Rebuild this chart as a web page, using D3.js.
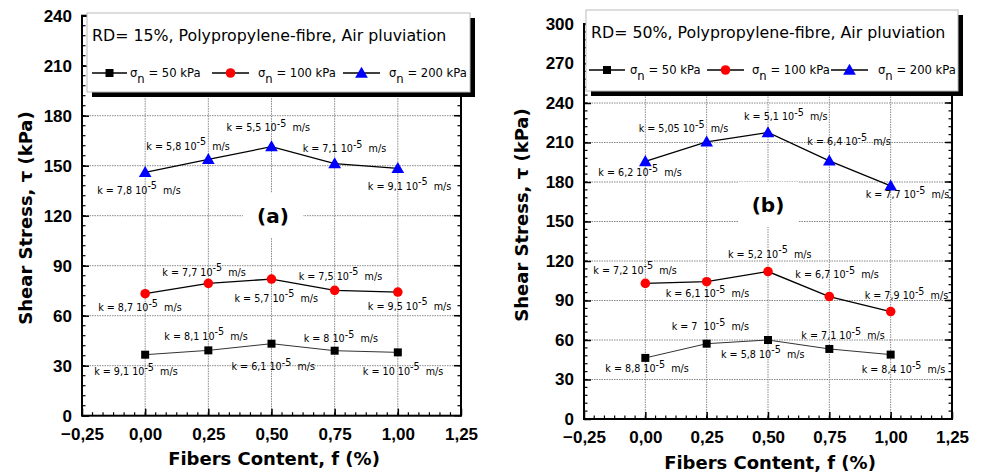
<!DOCTYPE html>
<html><head><meta charset="utf-8">
<script src="https://cdn.jsdelivr.net/npm/d3@7"></script>
<style>body{margin:0;background:#fff}svg text{white-space:pre}</style>
</head><body><svg id="c" width="981" height="475"></svg>
<script>
// ---------- data ----------
const fibers = [0, 0.25, 0.5, 0.75, 1.0];
const xTicks = [-0.25, 0, 0.25, 0.5, 0.75, 1.0, 1.25];
const yTicksA = [0, 30, 60, 90, 120, 150, 180, 210, 240];
const yTicksB = [0, 30, 60, 90, 120, 150, 180, 210, 240, 270, 300];
const seriesNames = ["50 kPa", "100 kPa", "200 kPa"];

const tauA50  = [36.6, 39.2, 43.2, 39.0, 38.0];
const tauA100 = [73.2, 79.4, 82.0, 75.2, 74.2];
const tauA200 = [146.0, 153.8, 161.4, 151.2, 148.4];
const tauB50  = [46.4, 57.2, 60.0, 53.2, 48.9];
const tauB100 = [103.0, 104.3, 112.0, 93.0, 81.6];
const tauB200 = [195.6, 210.5, 217.6, 196.0, 177.0];

const kA50  = ["9,1", "8,1", "6,1", "8", "10"];
const kA100 = ["8,7", "7,7", "5,7", "7,5", "9,5"];
const kA200 = ["7,8", "5,8", "5,5", "7,1", "9,1"];
const kB50  = ["8,8", "7 ", "5,8", "7,1", "8,4"];
const kB100 = ["7,2", "6,1", "5,2", "6,7", "7,9"];
const kB200 = ["6,2", "5,05", "5,1", "6,4", "7,7"];

const titleA = "RD= 15%, Polypropylene-fibre, Air pluviation";
const titleB = "RD= 50%, Polypropylene-fibre, Air pluviation";

// ---------- layout (label offsets relative to markers, px) ----------
const offA = [
  [[-51,17],[-44,-14],[-40,23],[-31,-12],[-35,19]],
  [[-47,14],[-46,-11],[-37,19],[-36,-14],[-30,14]],
  [[-48,18],[-62,-13],[-45,-19],[-32,-15],[-30,18]]
];
const offB = [
  [[-40,11],[-35,-17],[-47,14],[-28,-13],[-29,15]],
  [[-52,-13],[-41,12],[-40,-17.5],[-34,-21.6],[-26,-16]],
  [[-47,11.5],[-68,-13],[-24,-15.5],[-22,-19],[-25,9]]
];

const svg = d3.select("#c");
const fmt = d => d3.format(".2f")(d).replace(".", ",");
const colors = ["#000000", "#ff0000", "#0000ff"];
const symbols = [d3.symbolSquare, d3.symbolCircle, d3.symbolTriangle];
const symSizes = [64, 72, 70];
const lineColors = ["#333", "#000", "#000"];
const lineWidths = [1, 1.3, 1.3];
const TF = "'DejaVu Sans', sans-serif";
const NF = "'Liberation Sans', Arial, sans-serif";

function panel(cfg) {
  const x = d3.scaleLinear().domain([-0.25, 1.25]).range(cfg.xr);
  const y = d3.scaleLinear().domain([0, cfg.ymax]).range(cfg.yr);
  const g = svg.append("g");
  const [x0, x1] = cfg.xr, [yb, yt] = cfg.yr;

  // grid
  g.selectAll(".hg").data(cfg.yTicks.filter(v => v > 0 && v < cfg.ymax)).join("line")
    .attr("x1", x0).attr("x2", x1).attr("y1", d => y(d)).attr("y2", d => y(d))
    .attr("stroke", "#888").attr("stroke-width", 1).attr("stroke-dasharray", "1.5,1");
  g.selectAll(".vg").data(fibers).join("line")
    .attr("x1", d => x(d)).attr("x2", d => x(d)).attr("y1", yt).attr("y2", yb)
    .attr("stroke", "#888").attr("stroke-width", 1).attr("stroke-dasharray", "1.5,1");

  // panel label with white background
  g.append("rect").attr("x", cfg.lab[0] - 30).attr("y", cfg.lab[1] - 23)
    .attr("width", 60).attr("height", 45).attr("fill", "#fff");
  g.append("text").attr("x", cfg.lab[0]).attr("y", cfg.lab[1] + 7).attr("text-anchor", "middle")
    .attr("font-family", TF).attr("font-weight", "bold").attr("font-size", 20).text(cfg.labText);

  // axes with inner ticks
  const minorY = d3.range(0, cfg.ymax + 0.001, 6);
  const minorX = d3.range(-0.25, 1.2501, 0.25 / 6);
  const ax = d3.axisBottom(x).tickValues(xTicks).tickFormat(fmt).tickSizeInner(-7).tickSizeOuter(0).tickPadding(12);
  const ay = d3.axisLeft(y).tickValues(cfg.yTicks).tickFormat(d3.format("d")).tickSizeInner(-7).tickSizeOuter(0).tickPadding(10);
  const gx = g.append("g").attr("transform", `translate(0,${yb})`).call(ax);
  const gy = g.append("g").attr("transform", `translate(${x0},0)`).call(ay);
  [gx, gy].forEach(a => {
    a.select(".domain").remove();
    a.selectAll("line").attr("stroke", "#000").attr("stroke-width", 1.5);
    a.selectAll("text").attr("font-family", NF).attr("font-weight", "bold").attr("font-size", 17).attr("fill", "#000");
  });
  gx.selectAll("text").attr("dy", "0.71em");
  // minor ticks
  g.selectAll(".mxb").data(minorX).join("line").attr("x1", d => x(d)).attr("x2", d => x(d))
    .attr("y1", yb).attr("y2", yb - 3.5).attr("stroke", "#000").attr("stroke-width", 1.2);
  g.selectAll(".myl").data(minorY).join("line").attr("y1", d => y(d)).attr("y2", d => y(d))
    .attr("x1", x0).attr("x2", x0 + 3.5).attr("stroke", "#000").attr("stroke-width", 1.2);
  g.selectAll(".myr").data(minorY).join("line").attr("y1", d => y(d)).attr("y2", d => y(d))
    .attr("x1", x1).attr("x2", x1 - 3.5).attr("stroke", "#000").attr("stroke-width", 1.2);
  g.selectAll(".Myr").data(cfg.yTicks).join("line").attr("y1", d => y(d)).attr("y2", d => y(d))
    .attr("x1", x1).attr("x2", x1 - 7).attr("stroke", "#000").attr("stroke-width", 1.5);
  g.selectAll(".Mxt").data(xTicks).join("line").attr("x1", d => x(d)).attr("x2", d => x(d))
    .attr("y1", yt).attr("y2", yt + 7).attr("stroke", "#000").attr("stroke-width", 1.5);
  // frame
  g.append("rect").attr("x", x0).attr("y", yt).attr("width", x1 - x0).attr("height", yb - yt)
    .attr("fill", "none").attr("stroke", "#000").attr("stroke-width", 2);

  // series
  const line = d3.line().x((d, i) => x(fibers[i])).y(d => y(d));
  cfg.series.forEach((s, si) => {
    g.append("path").datum(s).attr("d", line).attr("fill", "none")
      .attr("stroke", lineColors[si]).attr("stroke-width", lineWidths[si]);
  });
  cfg.series.forEach((s, si) => {
    g.selectAll(null).data(s).join("path")
      .attr("transform", (d, i) => `translate(${x(fibers[i])},${y(d) + (si === 2 ? 1 : 0)})`)
      .attr("d", d3.symbol().type(symbols[si]).size(symSizes[si])).attr("fill", colors[si]);
    // k labels
    s.forEach((d, i) => {
      const o = cfg.off[si][i];
      const t = g.append("text").attr("x", x(fibers[i]) + o[0]).attr("y", y(d) + o[1] + 3.5)
        .attr("font-family", TF).attr("font-size", 9.6).attr("fill", "#000");
      t.append("tspan").text(`k = ${cfg.k[si][i]} 10`);
      t.append("tspan").attr("dy", -4.5).text("-5");
      t.append("tspan").attr("dy", 4.5).text("  m/s");
    });
  });

  // legend
  const L = cfg.leg;
  g.append("rect").attr("x", L.x + 5).attr("y", L.y + 5).attr("width", L.w).attr("height", L.h).attr("fill", "#000");
  g.append("rect").attr("x", L.x).attr("y", L.y).attr("width", L.w).attr("height", L.h)
    .attr("fill", "#fff").attr("stroke", "#bbb").attr("stroke-width", 1);
  g.append("text").attr("x", L.x + 5).attr("y", L.y + 28).attr("font-family", TF).attr("font-size", 15.8)
    .attr("fill", "#000").text(cfg.title);
  L.items.forEach((it, si) => {
    const ly = L.y + 60;
    g.append("line").attr("x1", it[0]).attr("x2", it[1]).attr("y1", ly).attr("y2", ly)
      .attr("stroke", "#000").attr("stroke-width", 1.3);
    g.append("path").attr("transform", `translate(${(it[0] + it[1]) / 2},${ly + (si === 2 ? 1 : 0)})`)
      .attr("d", d3.symbol().type(symbols[si]).size(symSizes[si])).attr("fill", colors[si]);
    const t = g.append("text").attr("x", it[2]).attr("y", ly + 4).attr("font-family", TF)
      .attr("font-size", 11.6).attr("fill", "#000");
    t.append("tspan").text("σ");
    t.append("tspan").attr("dy", 6).attr("font-size", 11.6).text("n");
    t.append("tspan").attr("dy", -6).text(` = ${seriesNames[si]}`);
  });

  // axis titles
  svg.append("text").attr("x", cfg.xt[0]).attr("y", cfg.xt[1]).attr("text-anchor", "middle")
    .attr("font-family", TF).attr("font-weight", "bold").attr("font-size", 18).text("Fibers Content, f (%)");
  svg.append("text").attr("transform", `translate(${cfg.yt[0]},${cfg.yt[1]}) rotate(-90)`)
    .attr("text-anchor", "middle").attr("font-family", TF).attr("font-weight", "bold")
    .attr("font-size", 18).text("Shear Stress, τ (kPa)");
}

panel({
  xr: [82, 461], yr: [415.7, 15.7], ymax: 240, yTicks: yTicksA,
  series: [tauA50, tauA100, tauA200], k: [kA50, kA100, kA200], off: offA,
  lab: [273, 216], labText: "(a)", title: titleA,
  leg: { x: 87, y: 13, w: 383, h: 79, items: [[92, 127, 130], [212, 249, 258], [343, 380, 389]] },
  xt: [274, 465], yt: [32, 218]
});
panel({
  xr: [584, 952], yr: [419, 24], ymax: 300, yTicks: yTicksB,
  series: [tauB50, tauB100, tauB200], k: [kB50, kB100, kB200], off: offB,
  lab: [768, 205], labText: "(b)", title: titleB,
  leg: { x: 586, y: 10, w: 372, h: 81, items: [[589, 625, 630], [707, 744, 752], [831, 868, 878]] },
  xt: [770, 469], yt: [528, 215]
});
</script></body></html>
